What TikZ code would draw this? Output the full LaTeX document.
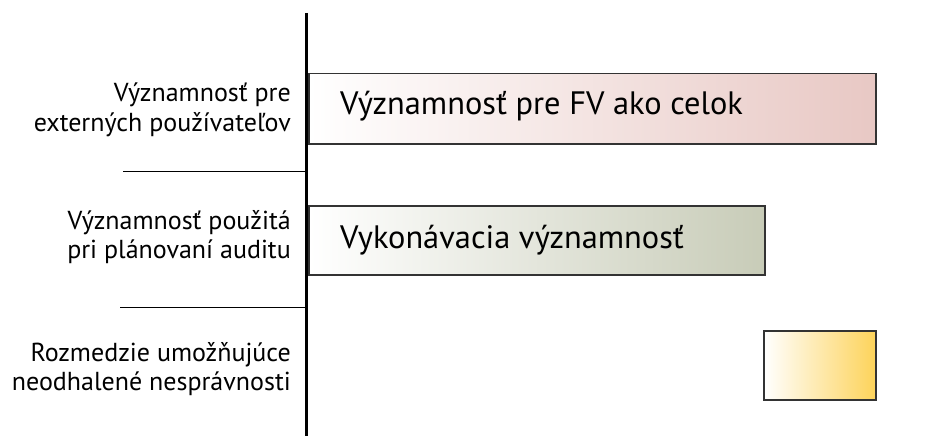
\documentclass[tikz,border=0pt]{standalone}
\usepackage{fontspec}
\setmainfont{PT Sans}
\begin{document}
\begin{tikzpicture}[x=1pt,y=-1pt,
  bar/.style={draw=black!80,line width=1.5pt,anchor=north west,inner sep=0pt},
  bartext/.style={anchor=west,font=\fontsize{32.4}{38}\selectfont,inner sep=0pt},
  rowlabel/.style={anchor=east,align=right,inner sep=0pt,font=\fontsize{26}{29.5}\selectfont},
  sep/.style={line width=1pt}]
\useasboundingbox (0,0) rectangle (946,436);
% bars
\node[bar,minimum width=567pt,minimum height=70pt,left color=white,right color={rgb,255:red,232;green,200;blue,196}] (b1) at (308,73) {};
\node[bar,minimum width=456pt,minimum height=69pt,left color=white,right color={rgb,255:red,200;green,204;blue,184}] (b2) at (308,205) {};
\node[bar,minimum width=112pt,minimum height=69pt,left color=white,right color={rgb,255:red,253;green,211;blue,90}] (b3) at (763,330) {};
\node[bartext] (t1) at (340,106) {Významnosť pre FV ako celok};
\node[bartext] (t2) at (340,240) {Vykonávacia významnosť};
% axis
\coordinate (ax1) at (306,13);
\coordinate (ax2) at (306,436);
\draw[line width=3pt] (ax1) -- (ax2);
% row labels
\node[rowlabel] (l1) at (291,110) {Významnosť pre\\externých používateľov};
\node[rowlabel] (l2) at (291,237) {Významnosť použitá\\pri plánovaní auditu};
\node[rowlabel] (l3) at (291,369) {Rozmedzie umožňujúce\\neodhalené nesprávnosti};
% separators
\coordinate (s1a) at (123,171);
\coordinate (s1b) at (306,171);
\coordinate (s2a) at (120,307);
\coordinate (s2b) at (306,307);
\draw[sep] (s1a) -- (s1b);
\draw[sep] (s2a) -- (s2b);
\end{tikzpicture}
\end{document}
